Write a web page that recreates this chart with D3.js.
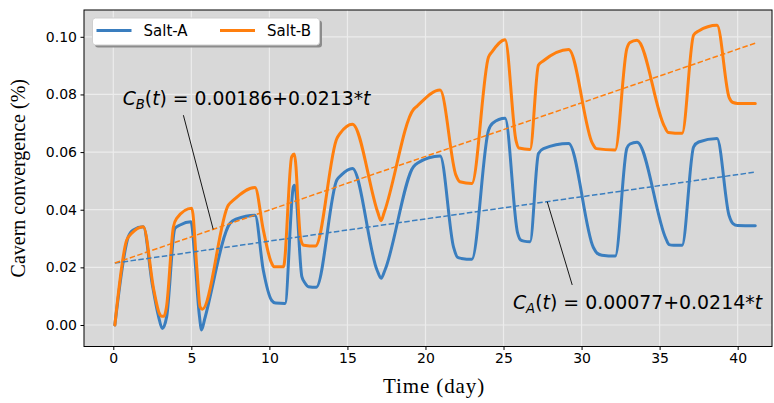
<!DOCTYPE html>
<html>
<head>
<meta charset="utf-8">
<script src="https://cdn.jsdelivr.net/npm/d3@7"></script>
<style>
  body { margin: 0; background: #fff; }
  svg text { font-family: "DejaVu Sans", sans-serif; fill: #000; }
  .axislabel { font-family: "Liberation Serif", "Times New Roman", serif !important; }
</style>
</head>
<body>
<div id="chart"></div>
<script>
// values
const timeA = [0.1, 0.96, 1.28, 1.92, 2.5, 2.9, 3.14, 3.42, 3.95, 4.28, 4.98, 5.2, 5.5, 5.66, 5.85, 7.48, 7.9, 9.08, 9.61, 10.15, 10.4, 11.0, 11.54, 11.62, 12.08, 12.29, 12.5, 13.0, 14.32, 14.6, 15.32, 16.9, 17.16, 17.4, 19.23, 19.5, 20.94, 21.8, 22.05, 22.3, 22.97, 24.04, 24.3, 25.1, 25.9, 26.1, 26.3, 26.7, 27.24, 27.56, 29.17, 30.75, 31.0, 31.3, 32.16, 32.9, 33.1, 33.55, 35.4, 35.6, 35.9, 36.44, 37.18, 37.5, 38.68, 39.45, 39.7, 40.0, 41.13];
const saltA = [0.0, 0.0306, 0.033, 0.0341, 0.014, 0.0029, -0.0012, 0.0029, 0.0335, 0.0347, 0.0358, 0.025, 0.004, -0.0017, 0.002, 0.0353, 0.0368, 0.0381, 0.019, 0.0085, 0.0076, 0.0075, 0.048, 0.0485, 0.0168, 0.0145, 0.0133, 0.0131, 0.0503, 0.052, 0.0543, 0.019, 0.0162, 0.019, 0.0549, 0.0562, 0.0586, 0.027, 0.0235, 0.0231, 0.0228, 0.0676, 0.07, 0.0717, 0.032, 0.0295, 0.0291, 0.0289, 0.0595, 0.0612, 0.063, 0.027, 0.0249, 0.0242, 0.0239, 0.0613, 0.0628, 0.0634, 0.03, 0.0279, 0.0277, 0.0277, 0.0618, 0.0635, 0.0647, 0.038, 0.0352, 0.0345, 0.0344];

const timeB = [0.1, 0.86, 1.18, 1.92, 2.6, 2.95, 3.1, 3.25, 3.4, 3.85, 4.06, 5.03, 5.35, 5.56, 5.7, 7.37, 7.69, 9.08, 9.61, 10.1, 10.3, 10.9, 11.43, 11.6, 12.0, 12.2, 12.95, 14.32, 14.53, 15.32, 16.95, 17.15, 17.35, 19.23, 19.45, 20.94, 21.95, 22.2, 22.97, 24.04, 24.26, 25.1, 25.8, 25.98, 26.7, 27.24, 27.56, 29.17, 30.7, 30.95, 32.15, 32.9, 33.1, 33.55, 35.3, 35.55, 36.44, 37.18, 37.5, 38.68, 39.45, 39.7, 40.0, 41.13];
const saltB = [0.0, 0.0295, 0.0318, 0.0341, 0.012, 0.004, 0.003, 0.003, 0.006, 0.034, 0.037, 0.0405, 0.02, 0.0063, 0.0055, 0.0416, 0.0433, 0.0477, 0.033, 0.022, 0.0202, 0.0202, 0.0584, 0.0593, 0.03, 0.0277, 0.0274, 0.0647, 0.0665, 0.0697, 0.039, 0.0362, 0.039, 0.0748, 0.0759, 0.0815, 0.052, 0.0497, 0.0491, 0.093, 0.0948, 0.099, 0.064, 0.0614, 0.0609, 0.0902, 0.0917, 0.0956, 0.063, 0.0612, 0.0607, 0.0959, 0.098, 0.0988, 0.069, 0.0668, 0.0665, 0.1006, 0.102, 0.104, 0.079, 0.0772, 0.0769, 0.0769];

// linear fits (intercept, slope per day) drawn as dashed lines
const seriesNames = ["Salt-A", "Salt-B"];
const seriesColors = ["#3a7ebf", "#ff7f0e"];
const fitIntercepts = [0.0214, 0.0213];
const fitSlopes = [0.00077, 0.00186];
const fitSpan = [0.1, 41.13];

const xTicks = [0, 5, 10, 15, 20, 25, 30, 35, 40];
const yTicks = [0.00, 0.02, 0.04, 0.06, 0.08, 0.10];

// annotation anchors, in data units: [text t, text v, line-start t, line-start v, arrow t]
const noteB = [0.6, 0.0763, 4.49, 0.0728, 6.4];
const noteA = [25.6, 0.0054, 29.4, 0.0139, 27.8];

const W = 774, H = 403;
const plot = {left: 84, right: 772, top: 10, bottom: 346.5};

const svg = d3.select("#chart").append("svg")
  .attr("width", W).attr("height", H);

const x = d3.scaleLinear().domain([-1.877, 42.2]).range([plot.left, plot.right]);
const y = d3.scaleLinear().domain([-0.00746, 0.1093]).range([plot.bottom, plot.top]);

// background + grid
svg.append("rect")
  .attr("x", plot.left).attr("y", plot.top)
  .attr("width", plot.right - plot.left).attr("height", plot.bottom - plot.top)
  .attr("fill", "#d8d8d8");

const grid = svg.append("g");
grid.selectAll(".gx").data(xTicks).enter().append("line")
  .attr("x1", d => x(d)).attr("x2", d => x(d))
  .attr("y1", plot.top).attr("y2", plot.bottom)
  .attr("stroke", "#ececec").attr("stroke-width", 1.2);
grid.selectAll(".gy").data(yTicks).enter().append("line")
  .attr("y1", d => y(d)).attr("y2", d => y(d))
  .attr("x1", plot.left).attr("x2", plot.right)
  .attr("stroke", "#ececec").attr("stroke-width", 1.2);

// clip for data
svg.append("clipPath").attr("id", "clip").append("rect")
  .attr("x", plot.left).attr("y", plot.top)
  .attr("width", plot.right - plot.left).attr("height", plot.bottom - plot.top);

const lines = svg.append("g").attr("clip-path", "url(#clip)");

const line = d3.line()
  .x(d => x(d[0])).y(d => y(d[1]))
  .curve(d3.curveMonotoneX);

const series = [d3.zip(timeA, saltA), d3.zip(timeB, saltB)];
series.forEach(function(pts, i) {
  lines.append("path")
    .datum(pts)
    .attr("d", line)
    .attr("fill", "none")
    .attr("stroke", seriesColors[i])
    .attr("stroke-width", 3)
    .attr("stroke-linejoin", "round")
    .attr("stroke-linecap", "round");
});

// fitted trends
function fitAt(i, t) { return fitIntercepts[i] + fitSlopes[i] * t; }
[0, 1].forEach(function(i) {
  lines.append("path")
    .datum(fitSpan.map(t => [t, fitAt(i, t)]))
    .attr("d", d3.line().x(d => x(d[0])).y(d => y(d[1])))
    .attr("fill", "none")
    .attr("stroke", seriesColors[i])
    .attr("stroke-width", 1.5)
    .attr("stroke-dasharray", "5.5,2.4");
});

// frame
svg.append("rect")
  .attr("x", plot.left).attr("y", plot.top)
  .attr("width", plot.right - plot.left).attr("height", plot.bottom - plot.top)
  .attr("fill", "none").attr("stroke", "#000").attr("stroke-width", 1);

// axes
const xAxis = svg.append("g")
  .attr("transform", `translate(0,${plot.bottom})`)
  .call(d3.axisBottom(x).tickValues(xTicks).tickFormat(d3.format("d")).tickSize(3.5).tickPadding(3.5));
const yAxis = svg.append("g")
  .attr("transform", `translate(${plot.left},0)`)
  .call(d3.axisLeft(y).tickValues(yTicks).tickFormat(d3.format(".2f")).tickSize(3.5).tickPadding(3.5));
[xAxis, yAxis].forEach(function(a) {
  a.select(".domain").remove();
  a.selectAll("text").style("font-size", "14px").style("font-family", "DejaVu Sans");
  a.selectAll("line").attr("stroke", "#000");
});

svg.append("text").attr("class", "axislabel")
  .attr("x", 434).attr("y", 393)
  .attr("text-anchor", "middle").style("font-size", "21px").style("letter-spacing", "0.9px")
  .text("Time (day)");
svg.append("text").attr("class", "axislabel")
  .attr("transform", `translate(25,${(plot.top + plot.bottom) / 2}) rotate(-90)`)
  .attr("text-anchor", "middle").style("font-size", "20px")
  .text("Cavern convergence (%)");

// annotations
function annotate(note, i, sub, txt, size) {
  svg.append("line")
    .attr("x1", x(note[2])).attr("y1", y(note[3]))
    .attr("x2", x(note[4])).attr("y2", y(fitAt(i, note[4])))
    .attr("stroke", "#000").attr("stroke-width", 0.9);
  const t = svg.append("text")
    .attr("x", x(note[0])).attr("y", y(note[1]))
    .style("font-size", size + "px");
  t.append("tspan").style("font-style", "italic").text("C");
  t.append("tspan").style("font-style", "italic").style("font-size", (size * 0.7) + "px")
    .attr("dy", 4).text(sub);
  t.append("tspan").attr("dy", -4).text("(");
  t.append("tspan").style("font-style", "italic").text("t");
  t.append("tspan").text(") = " + txt);
  t.append("tspan").style("font-style", "italic").text("t");
}
annotate(noteB, 1, "B", "0.00186+0.0213*", 18.8);
annotate(noteA, 0, "A", "0.00077+0.0214*", 18.9);

// legend
const leg = svg.append("g").attr("transform", "translate(92.5,18)");
leg.append("rect").attr("x", 2.5).attr("y", 2.5).attr("width", 227).attr("height", 27)
  .attr("rx", 3).attr("fill", "#8c8c8c");
leg.append("rect").attr("width", 227).attr("height", 27)
  .attr("rx", 3).attr("fill", "#fff").attr("stroke", "#cfcfcf").attr("stroke-width", 1);
seriesNames.forEach(function(name, i) {
  const g = leg.append("g").attr("transform", `translate(${4 + i * 123.5},0)`);
  g.append("line").attr("x1", 0).attr("x2", 35).attr("y1", 12.5).attr("y2", 12.5)
    .attr("stroke", seriesColors[i]).attr("stroke-width", 3);
  g.append("text").attr("x", 47).attr("y", 18).style("font-size", "15px").text(name);
});
</script>
</body>
</html>
